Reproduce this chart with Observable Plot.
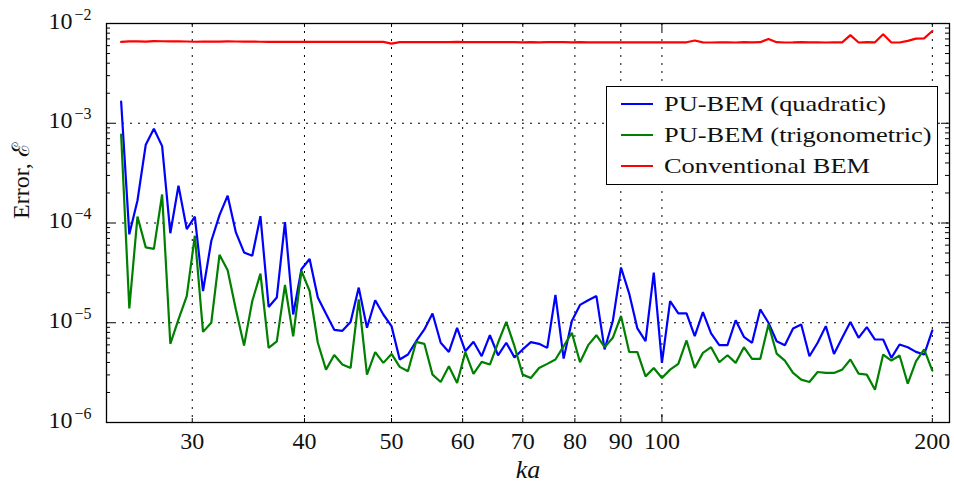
<!DOCTYPE html>
<html>
<head>
<meta charset="utf-8">
<script src="https://cdn.jsdelivr.net/npm/d3@7"></script>
<script src="https://cdn.jsdelivr.net/npm/@observablehq/plot@0.6"></script>
<style>
  html, body { margin: 0; padding: 0; background: #fff; }
  #chart { position: relative; width: 954px; height: 486px; }
  #legend {
    position: absolute; left: 606px; top: 86px; width: 332px; height: 99px;
    border: 1.2px solid #000; background: #fff; box-sizing: border-box;
    font-family: 'Liberation Serif', 'DejaVu Serif', serif; font-size: 22px; color: #111;
  }
  #legend .row { position: absolute; left: 0; height: 30px; width: 100%; }
  #legend .swatch { position: absolute; left: 14px; width: 32px; height: 2.4px; top: 14px; }
  #legend .label {
    position: absolute; left: 57px; top: 0; line-height: 30px; white-space: nowrap;
    transform: scaleX(1.2); transform-origin: left center;
  }
</style>
</head>
<body>
<div id="chart"></div>
<script>
// Wavenumber samples (log-spaced from 25 to 200)
const ka = [
  25.00, 25.53, 26.07, 26.63, 27.19, 27.77, 28.36, 28.96, 29.58, 30.20,
  30.84, 31.50, 32.17, 32.85, 33.55, 34.26, 34.99, 35.73, 36.49, 37.26,
  38.05, 38.86, 39.69, 40.53, 41.39, 42.27, 43.17, 44.08, 45.02, 45.97,
  46.95, 47.95, 48.96, 50.00, 51.06, 52.15, 53.26, 54.39, 55.54, 56.72,
  57.92, 59.15, 60.41, 61.69, 63.00, 64.34, 65.70, 67.10, 68.52, 69.98,
  71.46, 72.98, 74.53, 76.11, 77.73, 79.38, 81.06, 82.78, 84.54, 86.33,
  88.17, 90.04, 91.95, 93.90, 95.89, 97.93, 100.00, 102.12, 104.29, 106.51,
  108.77, 111.08, 113.43, 115.84, 118.30, 120.81, 123.38, 125.99, 128.67, 131.40,
  134.19, 137.04, 139.95, 142.92, 145.95, 149.05, 152.21, 155.44, 158.74, 162.11,
  165.55, 169.07, 172.66, 176.32, 180.06, 183.89, 187.79, 191.78, 195.85, 200.00
];

// PU-BEM with quadratic enrichment
const errQuadratic = [
  1.65e-3, 7.7e-5, 1.68e-4, 6.1e-4, 8.8e-4, 5.9e-4, 7.9e-5, 2.37e-4, 8.7e-5, 1.16e-4,
  2.08e-5, 6.6e-5, 1.2e-4, 1.88e-4, 8.05e-5, 5.07e-5, 4.69e-5, 1.17e-4, 1.44e-5, 1.79e-5,
  1.02e-4, 1.21e-5, 3.44e-5, 4.35e-5, 1.79e-5, 1.23e-5, 8.5e-6, 8.3e-6, 1.02e-5, 2.25e-5,
  8.9e-6, 1.68e-5, 1.21e-5, 9.25e-6, 4.28e-6, 4.8e-6, 6.53e-6, 8.57e-6, 1.24e-5, 6.3e-6,
  5.1e-6, 8.9e-6, 5.19e-6, 6.44e-6, 4.62e-6, 7.5e-6, 4.72e-6, 6.3e-6, 4.5e-6, 5.4e-6,
  6.39e-6, 6.15e-6, 5.6e-6, 1.9e-5, 4.37e-6, 1.04e-5, 1.51e-5, 1.68e-5, 1.85e-5, 5.4e-6,
  1.04e-5, 3.58e-5, 1.96e-5, 8.77e-6, 6.53e-6, 3.18e-5, 3.96e-6, 1.65e-5, 1.24e-5, 1.24e-5,
  7.34e-6, 1.28e-5, 7.81e-6, 5.96e-6, 5.96e-6, 1.06e-5, 7.23e-6, 6.3e-6, 1.36e-5, 1.0e-5,
  6.53e-6, 5.96e-6, 8.77e-6, 9.62e-6, 4.62e-6, 6.3e-6, 9.25e-6, 4.87e-6, 7.06e-6, 1.02e-5,
  7.06e-6, 9.04e-6, 6.79e-6, 6.79e-6, 4.44e-6, 6.05e-6, 5.69e-6, 5.1e-6, 4.8e-6, 8.37e-6
];

// PU-BEM with trigonometric enrichment
const errTrigonometric = [
  7.7e-4, 1.39e-5, 1.16e-4, 5.7e-5, 5.5e-5, 1.93e-4, 6.15e-6, 1.08e-5, 1.85e-5, 7.45e-5,
  8.1e-6, 1.0e-5, 4.8e-5, 3.36e-5, 1.36e-5, 5.9e-6, 1.65e-5, 3.11e-5, 5.6e-6, 6.5e-6,
  2.39e-5, 7.3e-6, 3.31e-5, 2.08e-5, 6.3e-6, 3.39e-6, 4.75e-6, 3.81e-6, 3.52e-6, 1.72e-5,
  3.02e-6, 5.07e-6, 3.96e-6, 4.87e-6, 3.61e-6, 3.26e-6, 6.44e-6, 6.15e-6, 3.02e-6, 2.55e-6,
  3.66e-6, 2.49e-6, 5.07e-6, 3.07e-6, 4.05e-6, 3.81e-6, 6.3e-6, 1.02e-5, 5.82e-6, 3.02e-6,
  2.79e-6, 3.52e-6, 3.87e-6, 4.28e-6, 5.82e-6, 7.93e-6, 4.02e-6, 5.96e-6, 7.5e-6, 5.69e-6,
  7.06e-6, 1.17e-5, 5.1e-6, 5.07e-6, 2.9e-6, 3.52e-6, 2.79e-6, 3.39e-6, 3.87e-6, 6.64e-6,
  3.52e-6, 4.99e-6, 5.69e-6, 4.02e-6, 4.72e-6, 3.96e-6, 5.69e-6, 4.34e-6, 4.34e-6, 9.62e-6,
  4.91e-6, 4.18e-6, 3.14e-6, 2.69e-6, 2.55e-6, 3.21e-6, 3.14e-6, 3.14e-6, 3.39e-6, 4.28e-6,
  3.09e-6, 3.02e-6, 2.13e-6, 4.8e-6, 4.18e-6, 4.69e-6, 2.45e-6, 4.11e-6, 5.4e-6, 3.31e-6
];

// Conventional BEM
const errConventional = [
  6.55e-3, 6.63e-3, 6.62e-3, 6.58e-3, 6.66e-3, 6.64e-3, 6.62e-3, 6.62e-3, 6.6e-3, 6.56e-3,
  6.58e-3, 6.6e-3, 6.58e-3, 6.62e-3, 6.6e-3, 6.58e-3, 6.6e-3, 6.56e-3, 6.55e-3, 6.56e-3,
  6.55e-3, 6.55e-3, 6.56e-3, 6.55e-3, 6.54e-3, 6.56e-3, 6.55e-3, 6.55e-3, 6.54e-3, 6.55e-3,
  6.56e-3, 6.55e-3, 6.55e-3, 6.28e-3, 6.5e-3, 6.52e-3, 6.5e-3, 6.52e-3, 6.52e-3, 6.5e-3,
  6.52e-3, 6.53e-3, 6.5e-3, 6.5e-3, 6.52e-3, 6.5e-3, 6.5e-3, 6.52e-3, 6.5e-3, 6.48e-3,
  6.5e-3, 6.48e-3, 6.5e-3, 6.52e-3, 6.5e-3, 6.48e-3, 6.5e-3, 6.48e-3, 6.48e-3, 6.47e-3,
  6.47e-3, 6.48e-3, 6.47e-3, 6.47e-3, 6.47e-3, 6.46e-3, 6.46e-3, 6.46e-3, 6.47e-3, 6.48e-3,
  6.75e-3, 6.47e-3, 6.45e-3, 6.48e-3, 6.47e-3, 6.45e-3, 6.5e-3, 6.48e-3, 6.5e-3, 7.0e-3,
  6.5e-3, 6.45e-3, 6.46e-3, 6.5e-3, 6.46e-3, 6.48e-3, 6.45e-3, 6.47e-3, 6.47e-3, 7.65e-3,
  6.45e-3, 6.5e-3, 6.48e-3, 7.8e-3, 6.45e-3, 6.45e-3, 6.7e-3, 7.05e-3, 7.1e-3, 8.4e-3
];

const seriesNames = ["PU-BEM (quadratic)", "PU-BEM (trigonometric)", "Conventional BEM"];
const seriesColors = ["#0000ff", "#008000", "#ff0000"];

// Axis ticks
const xTickLabels = [30, 40, 50, 60, 70, 80, 90, 100, 200];
const xMajorTicks = [100];
const xMinorTicks = [30, 40, 50, 60, 70, 80, 90, 200];
const yMajorTicks = [1e-6, 1e-5, 1e-4, 1e-3, 1e-2];
const yGridLines = [1e-5, 1e-4, 1e-3];
const yMinorTicks = [];
for (const d of [1e-6, 1e-5, 1e-4, 1e-3]) for (let k = 2; k <= 9; k++) yMinorTicks.push(k * d);

const rows = [];
[errQuadratic, errTrigonometric, errConventional].forEach((vals, s) => {
  vals.forEach((v, i) => rows.push({ka: ka[i], err: v, series: seriesNames[s]}));
});

const W = 954, H = 486;
const mL = 106, mR = 5, mT = 23, mB = 64;
const plotW = W - mL - mR, plotH = H - mT - mB;
const serif = "'Liberation Serif', 'DejaVu Serif', serif";
const dots = "2,6";

const chart = Plot.plot({
  width: W, height: H,
  marginLeft: mL, marginRight: mR, marginTop: mT, marginBottom: mB,
  style: {background: "#fff", fontFamily: serif, color: "#111"},
  x: {type: "log", domain: [24.08, 209], axis: null},
  y: {type: "log", domain: [1e-6, 1e-2], axis: null},
  color: {domain: seriesNames, range: seriesColors},
  marks: [
    // dotted grid
    Plot.ruleX(xTickLabels, {x: d => d, stroke: "#000", strokeWidth: 1, strokeDasharray: dots}),
    Plot.ruleY(yGridLines, {y: d => d, stroke: "#000", strokeWidth: 1, strokeDasharray: dots}),
    // error curves
    ...seriesNames.map((name) =>
      Plot.line(rows.filter(r => r.series === name), {
        x: "ka", y: "err", stroke: "series", strokeWidth: 2.2, strokeLinejoin: "miter"
      })
    ),
    // inward ticks on all four sides
    Plot.tickY(yMajorTicks, {y: d => d, insetRight: plotW - 8, stroke: "#000"}),
    Plot.tickY(yMajorTicks, {y: d => d, insetLeft: plotW - 8, stroke: "#000"}),
    Plot.tickY(yMinorTicks, {y: d => d, insetRight: plotW - 4, stroke: "#000"}),
    Plot.tickY(yMinorTicks, {y: d => d, insetLeft: plotW - 4, stroke: "#000"}),
    Plot.tickX(xMajorTicks, {x: d => d, insetTop: plotH - 8, stroke: "#000"}),
    Plot.tickX(xMajorTicks, {x: d => d, insetBottom: plotH - 8, stroke: "#000"}),
    Plot.tickX(xMinorTicks, {x: d => d, insetTop: plotH - 4, stroke: "#000"}),
    Plot.tickX(xMinorTicks, {x: d => d, insetBottom: plotH - 4, stroke: "#000"}),
    Plot.frame({stroke: "#000", strokeWidth: 1.3}),
    // x tick labels
    Plot.text(xTickLabels, {
      x: d => d, text: d => String(d), frameAnchor: "bottom", dy: 19,
      lineAnchor: "middle", fontSize: 24, fill: "#111"
    }),
    // y tick labels: 10 with a superscript exponent
    Plot.text(yMajorTicks, {
      y: d => d, text: () => "10", frameAnchor: "left", textAnchor: "end",
      dx: -34, dy: -2.5, lineAnchor: "middle", fontSize: 24, fill: "#111"
    }),
    Plot.text(yMajorTicks, {
      y: d => d, text: d => "\u2212" + Math.round(-Math.log10(d)), frameAnchor: "left",
      textAnchor: "start", dx: -32, dy: -9, lineAnchor: "middle", fontSize: 16, fill: "#111"
    }),
    // axis titles
    Plot.text(["ka"], {
      text: d => d, frameAnchor: "bottom", dy: 47, lineAnchor: "middle",
      fontSize: 26, fontStyle: "italic", fill: "#111"
    }),
    Plot.text(["Error, \u2130"], {
      text: d => d, frameAnchor: "left", rotate: -90, dx: -85.5, dy: -4,
      lineAnchor: "middle", fontSize: 24, fill: "#111"
    })
  ]
});

const root = document.getElementById("chart");
root.appendChild(chart);

// legend box
const legend = document.createElement("div");
legend.id = "legend";
seriesNames.forEach((name, i) => {
  const row = document.createElement("div");
  row.className = "row";
  row.style.top = (2 + i * 31) + "px";
  const sw = document.createElement("div");
  sw.className = "swatch";
  sw.style.background = seriesColors[i];
  const lab = document.createElement("div");
  lab.className = "label";
  lab.textContent = name;
  row.appendChild(sw);
  row.appendChild(lab);
  legend.appendChild(row);
});
root.appendChild(legend);
</script>
</body>
</html>
